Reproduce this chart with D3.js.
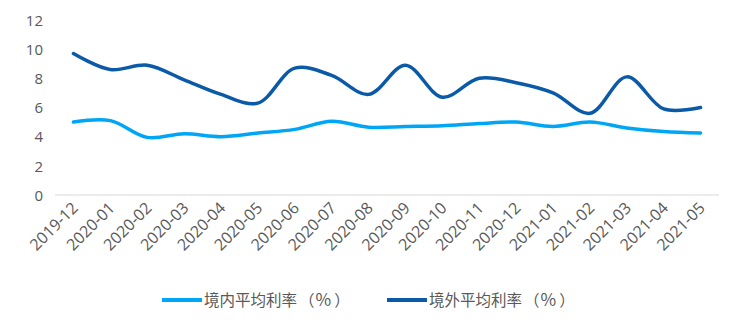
<!DOCTYPE html>
<html>
<head>
<meta charset="utf-8">
<script src="https://cdn.jsdelivr.net/npm/d3@7"></script>
<style>
  html, body { margin: 0; padding: 0; background: #fff; }
  svg { display: block; }
  text { font-family: "Noto Sans CJK SC", "Open Sans", sans-serif; fill: #595959; }
</style>
</head>
<body>
<svg id="chart" width="740" height="330"></svg>
<script>
// Monthly categories
const months = ["2019-12","2020-01","2020-02","2020-03","2020-04","2020-05","2020-06","2020-07","2020-08",
                "2020-09","2020-10","2020-11","2020-12","2021-01","2021-02","2021-03","2021-04","2021-05"];
// Domestic average rate (%)
const domestic = [5.0, 5.1, 3.95, 4.2, 4.0, 4.25, 4.5, 5.05, 4.65, 4.7, 4.75, 4.9, 5.0, 4.7, 5.0, 4.6, 4.35, 4.25];
// Overseas average rate (%)
const overseas = [9.7, 8.6, 8.9, 7.9, 6.9, 6.3, 8.7, 8.2, 6.9, 8.9, 6.7, 8.0, 7.7, 7.0, 5.6, 8.1, 5.9, 6.0];
const yTicks = [0, 2, 4, 6, 8, 10, 12];
const seriesNames = ["境内平均利率", "境外平均利率"];
const unitParts = ["（", "%", "）"];
const seriesColors = ["#00A6F6", "#0A5AA8"];

const svg = d3.select("#chart");
const plotLeft = 55, plotRight = 719, plotTop = 20, plotBottom = 195;

const x = d3.scalePoint().domain(months).range([plotLeft, plotRight]).padding(0.5);
const y = d3.scaleLinear().domain([0, 12]).range([plotBottom, plotTop]);

// Y axis labels (no axis line)
const yAxis = svg.append("g")
  .attr("transform", `translate(${plotLeft - 10},0)`)
  .call(d3.axisLeft(y).tickValues(yTicks).tickSize(0).tickPadding(0));
yAxis.select(".domain").remove();
yAxis.selectAll("text")
  .style("font-size", "15px")
  .attr("dy", "0.35em")
  .attr("x", -2)
  .attr("text-anchor", "end")
  .style("font-family", "'Open Sans', sans-serif")
  .style("fill", "#595959");

// Baseline
svg.append("line")
  .attr("x1", plotLeft).attr("x2", plotRight)
  .attr("y1", y(0)).attr("y2", y(0))
  .attr("stroke", "#d9d9d9").attr("stroke-width", 1);

// X axis labels rotated
const xAxis = svg.append("g")
  .attr("transform", `translate(0,${y(0)})`)
  .call(d3.axisBottom(x).tickSize(0).tickPadding(0));
xAxis.select(".domain").remove();
xAxis.selectAll("text")
  .style("font-size", "16px")
  .style("font-family", "'Open Sans', sans-serif")
  .style("fill", "#595959")
  .attr("text-anchor", "end")
  .attr("dy", "0")
  .attr("transform", "translate(5,14) rotate(-45)");

// Lines
const line = d3.line()
  .x((d, i) => x(months[i]))
  .y(d => y(d))
  .curve(d3.curveCatmullRom.alpha(0.5));

[domestic, overseas].forEach((data, k) => {
  svg.append("path")
    .datum(data)
    .attr("fill", "none")
    .attr("stroke", seriesColors[k])
    .attr("stroke-width", 3.5)
    .attr("stroke-linecap", "round")
    .attr("stroke-linejoin", "round")
    .attr("d", line);
});

// Legend
const legendItems = [{x: 162, name: seriesNames[0], color: seriesColors[0]},
                     {x: 387, name: seriesNames[1], color: seriesColors[1]}];
const lg = svg.append("g");
legendItems.forEach(it => {
  lg.append("line")
    .attr("x1", it.x).attr("x2", it.x + 40)
    .attr("y1", 300).attr("y2", 300)
    .attr("stroke", it.color).attr("stroke-width", 4);
  const t = lg.append("text")
    .attr("x", it.x + 42).attr("y", 300)
    .attr("dy", "0.36em")
    .style("font-size", "15.5px");
  t.append("tspan").text(it.name);
  t.append("tspan").attr("dx", 2).text(unitParts[0]);
  t.append("tspan").attr("dx", 1).style("font-size", "17px").text(unitParts[1]);
  t.append("tspan").attr("dx", 3).text(unitParts[2]);
});
</script>
</body>
</html>
